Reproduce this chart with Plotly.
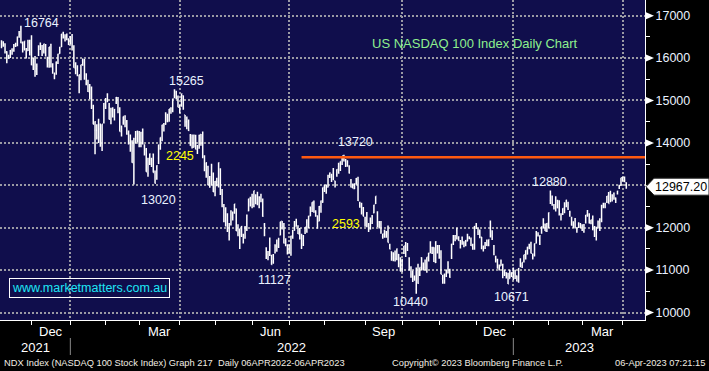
import pandas as pd
import plotly.graph_objects as go

# ---------------- DATA ----------------
holidays = ["2021-11-25", "2021-12-24", "2022-01-17", "2022-02-21", "2022-04-15",
            "2022-05-30", "2022-06-20", "2022-07-04", "2022-09-05", "2022-11-24",
            "2022-12-26", "2023-01-02", "2023-01-16", "2023-02-20"]
dates = pd.bdate_range("2021-11-05", "2023-04-05", freq="C", holidays=holidays)

opens = [
    # Nov 2021
    16330, 16380, 16330, 16150, 16020, 16050, 16200, 16180, 16290, 16350, 16520, 16620, 16360, 16240, 16150, 16180, 16290,
    # Dec 2021
    16330, 15830, 15990, 15750, 16070, 16260, 16280, 16160, 16310, 15970, 15900, 16320, 15740, 15560, 15690, 15890, 16110, 16270, 16600, 16500, 16510, 16440,
    # Jan 2022
    16390, 16530, 16250, 15730, 15760, 15450, 15580, 15940, 15950, 15400, 15420, 15310, 15140, 14740, 14300, 14300, 14430, 14330, 13980, 14480,
    # Feb 2022
    14980, 15130, 14830, 14550, 14780, 14600, 14960, 14840, 14740, 14260, 14480, 14540, 14500, 14220, 13990, 14020, 13100, 14150, 14100,
    # Mar 2022
    14210, 14020, 14320, 13920, 13840, 13290, 13520, 13590, 13730, 13330, 13150, 13640, 13870, 14060, 14420, 14440, 14620, 14540, 14820, 14770, 15120, 15190, 15080,
    # Apr 2022
    14880, 14870, 15110, 14660, 14500, 14500, 14170, 14120, 13900, 14170, 13830, 13880, 14200, 14110, 13680, 13300, 13440, 13030, 13100, 13240,
    # May 2022
    12860, 13070, 13080, 13380, 12810, 12500, 12400, 12180, 11810, 12070, 12330, 12460, 12440, 11840, 11950, 11920, 11840, 11760, 11970, 12400, 12610,
    # Jun 2022
    12680, 12550, 12720, 12750, 12490, 12700, 12580, 12070, 11520, 11370, 11430, 11330, 11200, 11410, 11460, 11640, 11830, 12150, 12030, 11660, 11530,
    # Jul 2022
    11480, 11410, 11810, 11940, 12040, 12040, 11880, 11530, 11620, 11920, 12130, 12030, 12280, 12440, 12590, 12370, 12280, 12160, 12490, 12600,
    # Aug 2022
    12870, 12860, 12960, 13220, 13150, 13300, 13100, 13250, 13440, 13380, 13500, 13660, 13560, 13480, 13430, 13120, 12960, 12920, 13040, 13140, 12530, 12570, 12450,
    # Sep 2022
    12180, 12320, 12070, 11970, 12150, 12350, 12570, 12350, 12070, 12090, 11790, 11780, 11840, 11880, 11580, 11430, 11280, 11370, 11260, 11370, 11150,
    # Oct 2022
    11020, 11410, 11430, 11530, 11280, 11050, 10850, 10800, 10550, 11110, 10880, 11290, 11040, 11060, 10990, 11320, 11410, 11400, 11530, 11180, 11560,
    # Nov 2022
    11570, 11300, 10800, 10830, 10900, 11030, 11000, 11330, 11640, 11730, 11950, 11720, 11540, 11770, 11630, 11590, 11680, 11770, 11710, 11590, 11530,
    # Dec 2022
    12050, 11900, 11900, 11780, 11500, 11580, 11600, 11590, 12130, 11810, 11570, 11300, 11250, 11020, 11100, 11130, 10950, 10940, 10860, 10800, 10890,
    # Jan 2023
    11010, 10930, 10860, 10790, 11110, 11100, 11210, 11380, 11380, 11530, 11620, 11330, 11340, 11640, 11820, 11700, 11950, 11990, 12070, 11920,
    # Feb 2023
    12090, 12640, 12570, 12510, 12450, 12640, 12630, 12280, 12330, 12400, 12500, 12470, 12380, 12230, 12080, 12190, 11990, 12090, 12020,
    # Mar 2023
    12030, 11910, 12120, 12350, 12300, 12110, 12220, 11970, 11800, 12020, 12000, 12180, 12520, 12510, 12620, 12740, 12650, 12680, 12810, 12700, 12800, 12960, 13000,
    # Apr 2023
    13130, 13190, 13060,
]
highs = [
    16420, 16400, 16350, 16160, 16080, 16190, 16230, 16330, 16360, 16510, 16640, 16764, 16390, 16400, 16240, 16430, 16430,
    16540, 16000, 16050, 15870, 16300, 16370, 16310, 16340, 16330, 16030, 16260, 16340, 15880, 15660, 15920, 16100, 16270, 16570, 16620, 16560, 16580, 16470,
    16520, 16570, 16300, 15900, 15830, 15610, 15840, 15990, 15980, 15640, 15490, 15390, 15330, 14900, 14510, 14440, 14570, 14460, 14440, 14940,
    15060, 15170, 14940, 14830, 14840, 14800, 15080, 15080, 14840, 14410, 14620, 14650, 14540, 14290, 14200, 14060, 14120, 14280, 14290,
    14280, 14260, 14340, 13970, 13880, 13650, 13750, 13650, 13750, 13350, 13470, 13960, 14130, 14430, 14470, 14720, 14690, 14800, 14840, 15040, 15265, 15230, 15120,
    14900, 15160, 15120, 14660, 14620, 14550, 14210, 14200, 14200, 14190, 13950, 14190, 14210, 14270, 13710, 13540, 13460, 13220, 13510, 13300,
    13100, 13180, 13540, 13400, 12910, 12560, 12480, 12340, 12110, 12410, 12380, 12560, 12450, 12080, 11980, 12040, 11860, 12040, 12310, 12680, 12730,
    12800, 12870, 12790, 12850, 12740, 12800, 12690, 12110, 11540, 11450, 11770, 11360, 11380, 11610, 11720, 11760, 12140, 12160, 12110, 11750, 11610,
    11600, 11810, 11950, 12160, 12210, 12060, 11990, 11860, 11830, 12010, 12200, 12280, 12500, 12600, 12640, 12410, 12290, 12510, 12640, 12950,
    13010, 13020, 13250, 13300, 13270, 13410, 13110, 13380, 13530, 13560, 13690, 13720, 13620, 13590, 13470, 13150, 13040, 13050, 13170, 13200, 12610, 12590, 12490,
    12260, 12370, 12110, 12240, 12300, 12540, 12740, 12390, 12160, 12160, 11860, 11950, 11920, 12050, 11620, 11440, 11420, 11460, 11510, 11380, 11300,
    11270, 11570, 11660, 11640, 11300, 11090, 10990, 10870, 11060, 11150, 11060, 11300, 11180, 11250, 11300, 11410, 11680, 11550, 11540, 11680, 11590,
    11590, 11470, 10890, 10920, 11000, 11210, 11030, 11620, 11830, 11830, 12000, 11800, 11710, 11790, 11680, 11710, 11860, 11800, 11770, 11620, 12040,
    12110, 12000, 11960, 11780, 11580, 11660, 11720, 11720, 12170, 11940, 11590, 11340, 11270, 11130, 11250, 11150, 11000, 10950, 10940, 11010, 10950,
    11060, 11010, 10870, 11050, 11280, 11180, 11360, 11470, 11550, 11620, 11670, 11390, 11630, 11920, 11890, 11820, 12030, 12220, 12100, 12110,
    12360, 12880, 12760, 12560, 12740, 12660, 12650, 12340, 12460, 12600, 12660, 12610, 12400, 12260, 12150, 12230, 12010, 12130, 12110,
    12080, 12090, 12300, 12420, 12340, 12190, 12290, 12040, 12020, 12170, 12220, 12540, 12590, 12590, 12750, 12840, 12870, 12790, 12830, 12710, 12870, 13010, 13180,
    13200, 13210, 13070,
]
lows = [
    16230, 16270, 16110, 15880, 15980, 16000, 16080, 16150, 16260, 16280, 16480, 16350, 16130, 16180, 15990, 16170, 16060,
    15830, 15720, 15560, 15600, 16050, 16190, 16050, 16110, 16040, 15780, 15770, 15780, 15630, 15500, 15610, 15860, 16100, 16260, 16460, 16390, 16420, 16310,
    16320, 16180, 15770, 15620, 15570, 15170, 15480, 15820, 15490, 15360, 15200, 15030, 14800, 14440, 13730, 14080, 14000, 13910, 13810, 14460,
    14800, 14960, 14550, 14440, 14600, 14530, 14920, 14700, 14270, 14150, 14430, 14370, 14190, 13960, 13790, 13530, 13020, 13980, 14010,
    13900, 13900, 13960, 13700, 13320, 13200, 13480, 13430, 13300, 13040, 13130, 13500, 13840, 14040, 14270, 14430, 14490, 14500, 14690, 14720, 15050, 15030, 14840,
    14700, 14850, 14780, 14380, 14320, 14280, 13930, 13870, 13890, 13850, 13740, 13860, 13930, 13640, 13330, 13180, 13000, 12940, 12990, 12840,
    12740, 12980, 12950, 12770, 12480, 12130, 12030, 11900, 11700, 12050, 12170, 12330, 11920, 11800, 11500, 11780, 11630, 11740, 11920, 12390, 12500,
    12460, 12480, 12550, 12530, 12460, 12600, 12260, 11800, 11260, 11230, 11330, 11127, 11150, 11390, 11430, 11520, 11820, 11960, 11630, 11560, 11370,
    11390, 11340, 11740, 11930, 12020, 11850, 11720, 11500, 11570, 11850, 11880, 11990, 12270, 12370, 12350, 12260, 11980, 12150, 12350, 12590,
    12840, 12800, 12950, 13170, 13080, 13120, 12950, 13200, 13270, 13340, 13480, 13560, 13430, 13440, 13280, 12950, 12930, 12910, 13010, 12630, 12470, 12310, 12270,
    12020, 12010, 11900, 11960, 12090, 12340, 12560, 12010, 11980, 11860, 11740, 11760, 11760, 11650, 11490, 11220, 11210, 11200, 11230, 11070, 10970,
    10950, 11380, 11310, 11450, 10990, 10820, 10720, 10750, 10440, 10680, 10860, 11000, 10990, 10990, 10940, 11200, 11400, 11380, 11190, 11170, 11390,
    11270, 10900, 10680, 10680, 10840, 10920, 10820, 11260, 11590, 11680, 11720, 11690, 11510, 11600, 11540, 11560, 11680, 11730, 11570, 11480, 11480,
    11970, 11830, 11750, 11490, 11440, 11500, 11570, 11560, 11770, 11710, 11350, 11180, 11030, 10990, 11100, 10810, 10860, 10800, 10671, 10800, 10840,
    10760, 10790, 10730, 10700, 11070, 11050, 11180, 11250, 11370, 11490, 11390, 11250, 11320, 11630, 11790, 11590, 11860, 11980, 11920, 11900,
    11990, 12560, 12520, 12430, 12380, 12460, 12290, 12170, 12300, 12340, 12480, 12420, 12260, 12050, 11990, 11980, 11880, 11990, 11990,
    11920, 11880, 12100, 12260, 12100, 12080, 11940, 11780, 11700, 11980, 11920, 12130, 12460, 12460, 12580, 12570, 12600, 12620, 12660, 12580, 12780, 12910, 12990,
    13090, 13070, 12920,
]
closes = [
    16350, 16330, 16190, 15960, 16000, 16180, 16180, 16290, 16300, 16500, 16570, 16360, 16320, 16400, 16030, 16380, 16140,
    15840, 15940, 15690, 15810, 16280, 16330, 16070, 16330, 16070, 15910, 16260, 15860, 15740, 15590, 15910, 16090, 16210, 16570, 16490, 16490, 16440, 16320,
    16500, 16280, 15770, 15770, 15590, 15610, 15840, 15910, 15510, 15610, 15210, 15040, 14840, 14440, 14500, 14130, 14140, 13940, 14440, 14930,
    15010, 15140, 14560, 14750, 14620, 14790, 15070, 14720, 14270, 14290, 14620, 14630, 14210, 14040, 13870, 13540, 14100, 14260, 14240,
    13990, 14240, 13990, 13840, 13320, 13280, 13740, 13590, 13300, 13050, 13460, 13950, 14130, 14420, 14410, 14700, 14500, 14800, 14810, 15040, 15240, 15070, 14840,
    14860, 15160, 14810, 14490, 14570, 14290, 13940, 13900, 14180, 13850, 13870, 14180, 13990, 13690, 13350, 13530, 13010, 12980, 13460, 12850,
    13090, 13090, 13530, 12850, 12680, 12160, 12300, 11930, 11890, 12390, 12240, 12560, 11930, 11880, 11840, 12030, 11810, 11970, 12290, 12680, 12640,
    12540, 12870, 12570, 12610, 12720, 12630, 12270, 11830, 11290, 11310, 11580, 11130, 11270, 11570, 11560, 11730, 12140, 12010, 11640, 11670, 11500,
    11590, 11800, 11880, 12140, 12130, 11860, 11750, 11740, 11800, 12010, 11900, 12270, 12460, 12600, 12380, 12350, 11990, 12500, 12630, 12950,
    12930, 12890, 13230, 13290, 13210, 13170, 12990, 13370, 13290, 13560, 13690, 13660, 13490, 13550, 13290, 12960, 12930, 12980, 13160, 12640, 12510, 12370, 12270,
    12240, 12040, 11960, 12210, 12260, 12530, 12740, 12030, 12130, 11910, 11850, 11940, 11860, 11650, 11500, 11310, 11250, 11270, 11500, 11160, 10970,
    11220, 11570, 11550, 11470, 11010, 10900, 10780, 10780, 11040, 10690, 11060, 11110, 11080, 11020, 11300, 11400, 11660, 11400, 11200, 11670, 11410,
    11300, 10900, 10700, 10860, 11000, 11080, 10830, 11610, 11800, 11700, 11850, 11700, 11670, 11680, 11560, 11700, 11830, 11750, 11580, 11500, 12030,
    12050, 11990, 11780, 11540, 11490, 11640, 11580, 11720, 11830, 11760, 11370, 11250, 11060, 11060, 11210, 10960, 10990, 10850, 10680, 10990, 10940,
    10860, 10910, 10740, 11040, 11110, 11180, 11360, 11460, 11540, 11560, 11400, 11290, 11620, 11870, 11840, 11810, 12020, 12170, 11920, 12100,
    12350, 12800, 12580, 12460, 12700, 12470, 12330, 12300, 12450, 12570, 12650, 12440, 12360, 12060, 12060, 12150, 11950, 12030, 12040,
    11960, 12060, 12300, 12300, 12110, 12180, 11950, 11830, 11880, 12140, 12200, 12520, 12520, 12560, 12740, 12570, 12720, 12770, 12700, 12640, 12860, 12980, 13180,
    13180, 13120, 12967.20,
]

assert len(dates) == len(opens) == len(highs) == len(lows) == len(closes)

y_ticks = [10000, 11000, 12000, 13000, 14000, 15000, 16000, 17000]
y_minor = [10500, 11500, 12500, 13500, 14500, 15500, 16500]
labelled_months = [3, 6, 9, 12]
month_names = {3: "Mar", 6: "Jun", 9: "Sep", 12: "Dec"}
resistance_level = 13660
resistance_start = "2022-07-13"

# annotation texts (value labels) with pixel centres in the plot area
peak_labels = [("16764", 41.5, 22.5, "#eaf2ff"), ("15265", 186.5, 81, "#eaf2ff"),
               ("13020", 158.5, 200, "#eaf2ff"), ("2245", 180.5, 156, "#ffff00"),
               ("13720", 355, 142, "#eaf2ff"), ("2593", 346, 224, "#ffff00"),
               ("11127", 274, 280, "#eaf2ff"), ("10440", 410.5, 302, "#eaf2ff"),
               ("10671", 511.5, 297, "#eaf2ff"), ("12880", 549, 182, "#eaf2ff")]

# ---------------- LAYOUT CONSTANTS ----------------
W, H = 709, 371
PW, PH = 645, 320  # plot area size
FONT = "Liberation Sans, Arial, DejaVu Sans, sans-serif"
NAVY = "#100e4c"
GRID = "#9a9aa4"

idx = list(range(len(dates)))
xr = [-0.85, 364.6]

month_starts = [i for i in range(1, len(dates)) if dates[i].month != dates[i - 1].month]
quarter_starts = [i for i in month_starts if dates[i].month in (1, 4, 7, 10)]
year_starts = [i for i in month_starts if dates[i].month == 1]

last = closes[-1]
# the last-price tag hides the axis label it sits on
hidden_tick = min(y_ticks, key=lambda v: abs(v - last))


def ppx(x, y):
    """pixel in plot area -> paper coords"""
    return x / PW, (PH - y) / PH


fig = go.Figure()
fig.add_trace(go.Ohlc(
    x=idx, open=opens, high=highs, low=lows, close=closes,
    increasing=dict(line=dict(color="white", width=1.5)),
    decreasing=dict(line=dict(color="white", width=1.5)),
    tickwidth=0.45,
    text=[d.strftime("%d %b %Y") for d in dates], hoverinfo="text+y",
    showlegend=False,
))

shapes = []
annotations = []

# resistance line
r_idx = idx[list(dates).index(pd.Timestamp(resistance_start))]
shapes.append(dict(type="line", xref="x", yref="y", x0=r_idx, x1=xr[1],
                   y0=resistance_level, y1=resistance_level,
                   line=dict(color="#ff5a10", width=2.5), layer="above"))

# right axis arrow markers
for v in y_ticks:
    if v == hidden_tick:
        continue
    shapes.append(dict(type="path", xref="paper", yref="y", xsizemode="pixel", ysizemode="pixel",
                       xanchor=1, yanchor=v, path="M1,-3.5 L9,0 L1,3.5 Z",
                       fillcolor="white", line=dict(color="white", width=0)))

# last price tag
shapes.append(dict(type="path", xref="paper", yref="y", xsizemode="pixel", ysizemode="pixel",
                   xanchor=1, yanchor=last, path="M1,0 L9,8.5 L64,8.5 L64,-8.5 L9,-8.5 Z",
                   fillcolor="white", line=dict(color="#222222", width=1)))
annotations.append(dict(xref="paper", yref="y", x=1, y=last, xanchor="left", yanchor="middle",
                        xshift=8, text=f"{last:.2f}", showarrow=False,
                        font=dict(color="black", size=12.5, family=FONT)))

# year separators under the axis
for i in year_starts:
    shapes.append(dict(type="line", xref="x", yref="paper", x0=i, x1=i,
                       y0=(PH - 338) / PH, y1=(PH - 355) / PH,
                       line=dict(color="#8a8a8a", width=1)))

# month labels (centred in month)
bounds = month_starts + [xr[1]]
for k, i in enumerate(month_starts):
    m = dates[i].month
    if m in labelled_months:
        nxt = bounds[k + 1]
        annotations.append(dict(xref="x", yref="paper", x=(i + nxt) / 2, y=(PH - 331.5) / PH,
                                text=month_names[m], showarrow=False, xanchor="center", yanchor="middle",
                                font=dict(color="white", size=13, family=FONT)))
# year labels
ybounds = [xr[0]] + year_starts + [xr[1]]
years = [dates[0].year] + [dates[i].year for i in year_starts]
for k, yr in enumerate(years):
    annotations.append(dict(xref="x", yref="paper", x=(ybounds[k] + ybounds[k + 1]) / 2,
                            y=(PH - 347) / PH, text=str(yr), showarrow=False,
                            xanchor="center", yanchor="middle",
                            font=dict(color="white", size=13, family=FONT)))

# value labels
for t, px_, py_, col in peak_labels:
    x, y = ppx(px_, py_)
    annotations.append(dict(xref="paper", yref="paper", x=x, y=y, text=t, showarrow=False,
                            xanchor="center", yanchor="middle",
                            font=dict(color=col, size=12.5, family=FONT)))

# chart title
x, y = ppx(475.5, 44)
annotations.append(dict(xref="paper", yref="paper", x=x, y=y, text="US NASDAQ 100 Index Daily Chart",
                        showarrow=False, xanchor="center", yanchor="middle",
                        font=dict(color="#8ef08e", size=13, family=FONT)))

# watermark box
x, y = ppx(89, 288)
annotations.append(dict(xref="paper", yref="paper", x=x, y=y, text="www.marketmatters.com.au",
                        showarrow=False, xanchor="center", yanchor="middle",
                        bordercolor="white", borderwidth=1, borderpad=2,
                        font=dict(color="#1ee6f5", size=12.5, family=FONT)))

# footer
fy = (PH - 363) / PH
FOOT = dict(color="#f2eee4", size=9.3, family=FONT)
annotations.append(dict(xref="paper", yref="paper", x=2 / PW, y=fy, xanchor="left", yanchor="middle",
                        text="NDX Index (NASDAQ 100 Stock Index) Graph 217  Daily 06APR2022-06APR2023",
                        showarrow=False, font=FOOT))
annotations.append(dict(xref="paper", yref="paper", x=390 / PW, y=fy, xanchor="left", yanchor="middle",
                        text="Copyright© 2023 Bloomberg Finance L.P.",
                        showarrow=False, font=FOOT))
annotations.append(dict(xref="paper", yref="paper", x=707 / PW, y=fy, xanchor="right", yanchor="middle",
                        text="06-Apr-2023 07:21:15",
                        showarrow=False, font=FOOT))

fig.update_layout(
    width=W, height=H,
    margin=dict(l=0, r=W - PW, t=0, b=H - PH, pad=0),
    paper_bgcolor="black", plot_bgcolor=NAVY,
    font=dict(family=FONT, color="white"),
    showlegend=False,
    shapes=shapes, annotations=annotations,
    xaxis=dict(
        range=xr, rangeslider=dict(visible=False),
        tickvals=quarter_starts, showticklabels=False,
        showgrid=True, gridcolor=GRID, gridwidth=2, griddash="2px,2px",
        ticks="outside", ticklen=4, tickcolor="white", tickwidth=1,
        minor=dict(tickvals=month_starts, ticks="outside", ticklen=4, tickcolor="white",
                   tickwidth=1, showgrid=False),
        showline=True, linecolor="white", linewidth=1, zeroline=False,
    ),
    yaxis=dict(
        side="right", range=[9823, 17370],
        tickvals=y_ticks, ticktext=["" if v == hidden_tick else str(v) for v in y_ticks],
        tickfont=dict(color="#eaf2ff", size=12.5, family=FONT),
        showgrid=True, gridcolor=GRID, gridwidth=2, griddash="2px,2px",
        ticks="outside", ticklen=4, tickcolor="white", tickwidth=1,
        ticklabelstandoff=3,
        minor=dict(tickvals=y_minor, ticks="outside", ticklen=4, tickcolor="white",
                   tickwidth=1, showgrid=False),
        showline=True, linecolor="white", linewidth=1, zeroline=False,
    ),
    hovermode="closest",
)

fig.write_html("out.html", config={"displayModeBar": False},
               post_script="document.body.style.margin='0';document.body.style.padding='0';")
